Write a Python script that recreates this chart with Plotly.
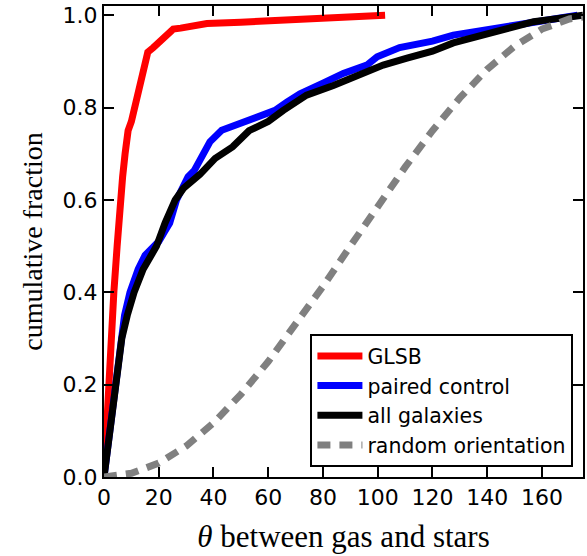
import plotly.graph_objects as go

# GLSB galaxies
glsb_theta = [0, 0.8, 1.6, 2.6, 3.6, 4.8, 5.8, 6.8, 7.7, 8.8, 10, 11.3, 12, 13.8, 15, 16, 18, 20.5, 23, 25.3, 28, 31, 37.6, 50, 62, 80, 95, 102.7]
glsb_frac = [0, 0.1, 0.2, 0.3, 0.4, 0.5, 0.6, 0.65, 0.7, 0.75, 0.77, 0.8, 0.83, 0.87, 0.9, 0.92, 0.93, 0.945, 0.96, 0.97, 0.972, 0.976, 0.982, 0.985, 0.988, 0.993, 0.997, 1.0]

# paired control sample
ctrl_theta = [0, 1, 2, 3, 4, 5, 6, 7.5, 9.5, 11, 12.5, 15, 18, 20, 22, 24, 26.5, 28.5, 30.7, 33, 35.7, 38.7, 43, 48, 55, 62.5, 66.8, 71.6, 80, 87.4, 96, 99.8, 108, 120, 127.6, 138.5, 151, 159, 165, 173]
ctrl_frac = [0, 0.05, 0.1, 0.15, 0.2, 0.25, 0.3, 0.35, 0.4, 0.43, 0.45, 0.48, 0.5, 0.51, 0.53, 0.55, 0.6, 0.625, 0.65, 0.664, 0.693, 0.726, 0.751, 0.762, 0.78, 0.794, 0.812, 0.83, 0.853, 0.874, 0.892, 0.91, 0.93, 0.944, 0.957, 0.967, 0.982, 0.989, 0.993, 1.0]

# all galaxies
all_theta = [0, 1, 2, 3, 4, 5.2, 6.5, 8.5, 11, 14.3, 17, 19.2, 22.3, 26, 29, 33, 35, 40.6, 47, 53, 60, 65.5, 74, 83.8, 93.6, 102, 110.7, 120, 127.6, 138.5, 147, 157, 162, 175]
all_frac = [0, 0.05, 0.1, 0.15, 0.2, 0.25, 0.3, 0.35, 0.4, 0.45, 0.48, 0.5, 0.55, 0.6, 0.625, 0.645, 0.655, 0.69, 0.715, 0.75, 0.77, 0.794, 0.827, 0.848, 0.87, 0.892, 0.907, 0.922, 0.94, 0.957, 0.972, 0.986, 0.99, 1.0]

# random orientation
rand_theta = [0, 10, 20, 30, 40, 50, 60, 70, 80, 90, 100, 110, 120, 130, 140, 150, 160, 170, 180]
rand_frac = [0, 0.008, 0.03, 0.067, 0.117, 0.179, 0.25, 0.329, 0.413, 0.5, 0.587, 0.671, 0.75, 0.821, 0.883, 0.933, 0.97, 0.992, 1.0]

x_ticks = [0, 20, 40, 60, 80, 100, 120, 140, 160]
y_ticks = [0.0, 0.2, 0.4, 0.6, 0.8, 1.0]

fig = go.Figure()
fig.add_trace(go.Scatter(x=glsb_theta, y=glsb_frac, name='GLSB', mode='lines', legendgroup='a',
                         line=dict(color='red', width=7)))
fig.add_trace(go.Scatter(x=ctrl_theta, y=ctrl_frac, name='paired control', mode='lines', legendgroup='b',
                         line=dict(color='blue', width=7)))
fig.add_trace(go.Scatter(x=all_theta, y=all_frac, name='all galaxies', mode='lines', legendgroup='c',
                         line=dict(color='black', width=7)))
fig.add_trace(go.Scatter(x=rand_theta, y=rand_frac, name='random orientation', mode='lines', legendgroup='d',
                         line=dict(color='gray', width=7, dash='13px,9px')))

axis_style = dict(showgrid=False, zeroline=False, showline=True, linecolor='black', linewidth=2,
                  mirror='ticks', ticks='inside', ticklen=10, tickwidth=1.5, tickcolor='black',
                  automargin=False,
                  tickfont=dict(family='DejaVu Sans', size=22, color='black'))

fig.update_layout(
    width=587, height=556,
    margin=dict(l=104, r=4, t=6, b=79),
    plot_bgcolor='white', paper_bgcolor='white',
    xaxis=dict(range=[0, 175], tickvals=x_ticks,
               title=dict(text='<i>θ</i> between gas and stars', standoff=16,
                          font=dict(family='Liberation Serif', size=31, color='black')),
               **axis_style),
    yaxis=dict(range=[0, 1.02], tickvals=y_ticks, tickformat='.1f',
               title=dict(text='cumulative fraction', standoff=12,
                          font=dict(family='Liberation Serif', size=28, color='black')),
               **axis_style),
    legend=dict(x=0.98, y=0.021, xanchor='right', yanchor='bottom',
                bordercolor='black', borderwidth=2, bgcolor='white',
                tracegroupgap=0, itemwidth=45,
                font=dict(family='DejaVu Sans', size=20.5, color='black')),
)

# page body has a default 8px margin; drop it so the figure sits at the corner
fig.write_html("out.html", config={'displayModeBar': False},
               post_script="document.body.style.margin='0';")
